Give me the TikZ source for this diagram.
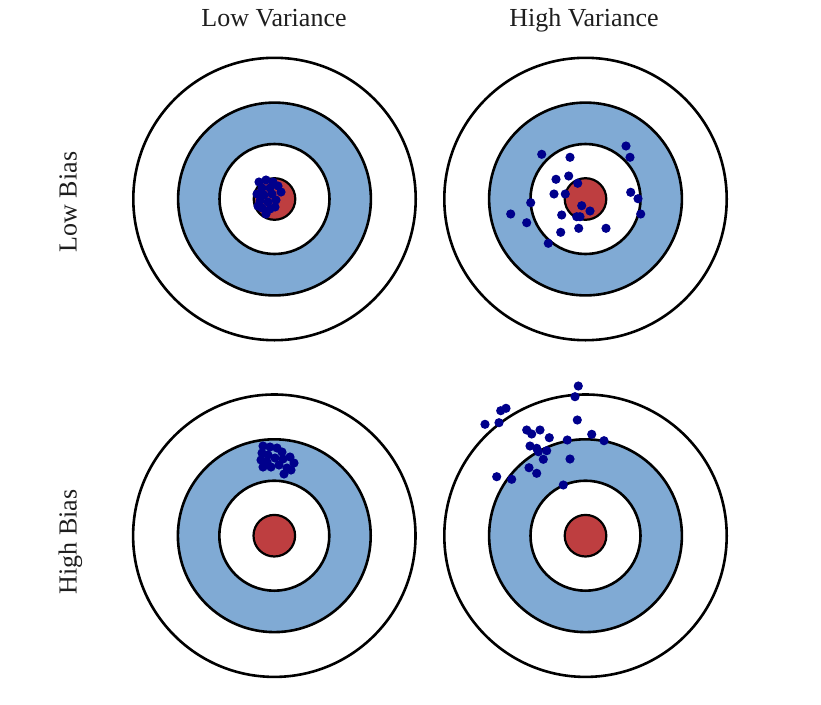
\documentclass[tikz,border=0pt]{standalone}
\usepackage{fontspec}
\setmainfont{Liberation Serif}
\definecolor{ringblue}{RGB}{128,170,212}
\definecolor{bullred}{RGB}{190,62,64}
\definecolor{dotblue}{RGB}{0,0,140}
\definecolor{txt}{RGB}{30,30,30}
\begin{document}
\begin{tikzpicture}[x=1pt,y=-1pt,
  ring/.style={line width=2.6pt, draw=black},
  shot/.style={fill=dotblue},
  lbl/.style={font=\fontsize{26}{30}\selectfont, inner sep=0pt, text=txt}]
\useasboundingbox (0,0) rectangle (821,704);
\fill[white] (0,0) rectangle (821,704);
% targets
\foreach \cx/\cy in {274.5/199,585.5/199,274.3/535.7,585.5/535.7}{
  \draw[ring,fill=white] (\cx,\cy) circle[radius=141.2];
  \draw[ring,fill=ringblue] (\cx,\cy) circle[radius=96.4];
  \draw[ring,fill=white] (\cx,\cy) circle[radius=55];
  \draw[ring,line width=2.2pt,fill=bullred] (\cx,\cy) circle[radius=20.8];
}
% low bias, low variance
\foreach \p in {(259,182),(266,180),(273,182),(278,186),(262,188),(270,188),(281,192),(257,194),(264,195),(272,194),(260,201),(268,202),(276,200),(262,208),(270,209),(266,214),(275,207),(258,206)}
  \fill[shot] \p circle[radius=4.6];
% low bias, high variance
\foreach \p in {(541.7,154.3),(570,157.3),(626,146),(630,157.3),(556,179.3),(568.7,176),(577.7,183.3),(554,194),(565.3,194),(530.7,202.7),(510.7,214),(526.7,222.7),(561.7,215),(581.7,205.7),(590,211),(576.7,216.7),(580,216.7),(630.7,192.3),(638,198.7),(640.7,214),(560.7,232.3),(578.7,228.3),(606,228.3),(548.3,243.3)}
  \fill[shot] \p circle[radius=4.6];
% high bias, low variance
\foreach \p in {(263,446),(270,447),(277,448),(262,453),(268,455),(282,452),(261,460),(267,462),(275,458),(283,459),(290,457),(294,463),(263,467),(271,467),(279,465),(287,468),(284,474),(291,470)}
  \fill[shot] \p circle[radius=4.6];
% high bias, high variance
\foreach \p in {(578.3,386),(575,396.7),(500.7,410.7),(506,408.3),(485,424.3),(499,422.7),(577.3,420),(526.7,430),(531.7,434),(540,430),(549.3,437.7),(567.3,440),(591.7,434.3),(604,440.7),(530,446),(536.7,448.3),(538.3,451.7),(546.7,450.7),(543.3,459.3),(570,459),(529,467.7),(536.7,473.3),(496.7,476.7),(511.7,479.3),(563.3,485)}
  \fill[shot] \p circle[radius=4.6];
% labels
\node[lbl,anchor=base] (lowvar) at (274,26.5) {Low Variance};
\node[lbl,anchor=base] (highvar) at (584,26.5) {High Variance};
\node[lbl,rotate=90,anchor=base] (lowbias) at (76.5,202) {Low Bias};
\node[lbl,rotate=90,anchor=base] (highbias) at (76.5,542) {High Bias};
\end{tikzpicture}
\end{document}
